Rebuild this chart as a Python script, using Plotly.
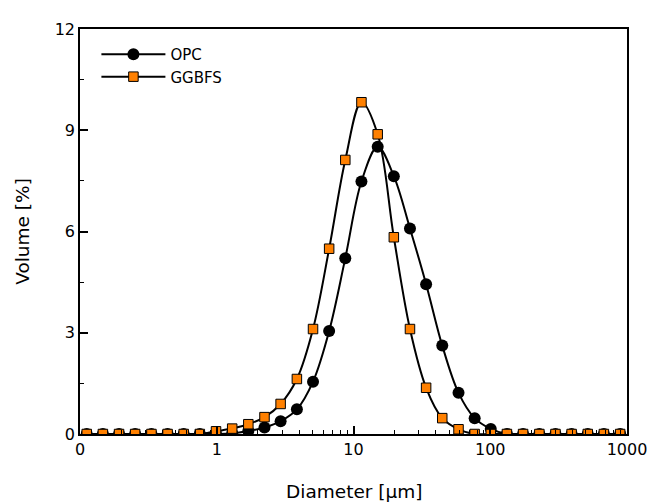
import plotly.graph_objects as go

diameter_um = [0.112, 0.147, 0.193, 0.253, 0.333, 0.437, 0.573, 0.752, 0.988, 1.297,
               1.702, 2.234, 2.931, 3.855, 5.058, 6.637, 8.710, 11.43, 15.03, 19.72,
               25.88, 33.96, 44.57, 58.61, 76.91, 100.9, 132.4, 173.8, 228.6, 299.9,
               393.6, 516.4, 677.6, 891.3]

opc_volume = [0, 0, 0, 0, 0, 0, 0, 0, 0, 0.02,
              0.09, 0.19, 0.38, 0.73, 1.55, 3.05, 5.21, 7.48, 8.51, 7.64,
              6.09, 4.44, 2.62, 1.22, 0.47, 0.15, 0, 0, 0, 0,
              0, 0, 0, 0]

ggbfs_volume = [0, 0, 0, 0, 0, 0, 0, 0, 0.08, 0.16,
                0.29, 0.50, 0.89, 1.63, 3.11, 5.49, 8.12, 9.83, 8.88, 5.83,
                3.11, 1.37, 0.47, 0.14, 0, 0, 0, 0, 0, 0,
                0, 0, 0, 0]

x_tick_vals = [0.1, 1, 10, 100, 1000]
x_tick_text = ["0", "1", "10", "100", "1000"]
y_tick_vals = [0, 3, 6, 9, 12]

FONT = "DejaVu Sans"

fig = go.Figure()
fig.add_trace(go.Scatter(
    x=diameter_um, y=opc_volume, name="OPC", mode="lines+markers",
    line=dict(color="black", width=2, shape="spline", smoothing=1.0),
    marker=dict(symbol="circle", size=12, color="black"),
))
fig.add_trace(go.Scatter(
    x=diameter_um, y=ggbfs_volume, name="GGBFS", mode="lines+markers",
    line=dict(color="black", width=2, shape="spline", smoothing=1.0),
    marker=dict(symbol="square", size=9.5, color="#FF8000",
                line=dict(color="black", width=1)),
))

minor_x = [m * 10 ** d for d in range(-1, 3) for m in range(2, 10)]

fig.update_layout(
    width=654, height=496,
    margin=dict(l=72, r=35, t=12, b=70),
    paper_bgcolor="white", plot_bgcolor="white",
    font=dict(family=FONT, size=16, color="black"),
    showlegend=True,
    legend=dict(x=0.03, y=0.978, xanchor="left", yanchor="top",
                bgcolor="rgba(0,0,0,0)", font=dict(size=15, family=FONT),
                itemwidth=64, tracegroupgap=0),
    annotations=[dict(text="Diameter [μm]", x=0.5, y=0, xref="paper", yref="paper",
                      xanchor="center", yanchor="top", yshift=-45, showarrow=False,
                      font=dict(size=18.5, family=FONT, color="black"))],
)
fig.update_xaxes(
    type="log", range=[-1, 3],
    tickvals=x_tick_vals, ticktext=x_tick_text,
    ticks="inside", ticklen=8, tickwidth=1.5, tickcolor="black",
    minor=dict(tickvals=minor_x, ticks="inside", ticklen=4, tickwidth=1.2, tickcolor="black"),
    showline=True, linecolor="black", linewidth=1.5, mirror=True,
    showgrid=False, zeroline=False,
    tickfont=dict(size=16, family=FONT),
)
fig.update_yaxes(
    range=[0, 12],
    tickvals=y_tick_vals,
    ticks="inside", ticklen=8, tickwidth=1.5, tickcolor="black",
    minor=dict(dtick=1.5, tick0=0, ticks="inside", ticklen=4, tickwidth=1.2, tickcolor="black"),
    showline=True, linecolor="black", linewidth=1.5, mirror=True,
    showgrid=False, zeroline=False,
    title=dict(text="Volume [%]", font=dict(size=18.5, family=FONT), standoff=20),
    tickfont=dict(size=16, family=FONT),
)

fig.write_html("out.html")
